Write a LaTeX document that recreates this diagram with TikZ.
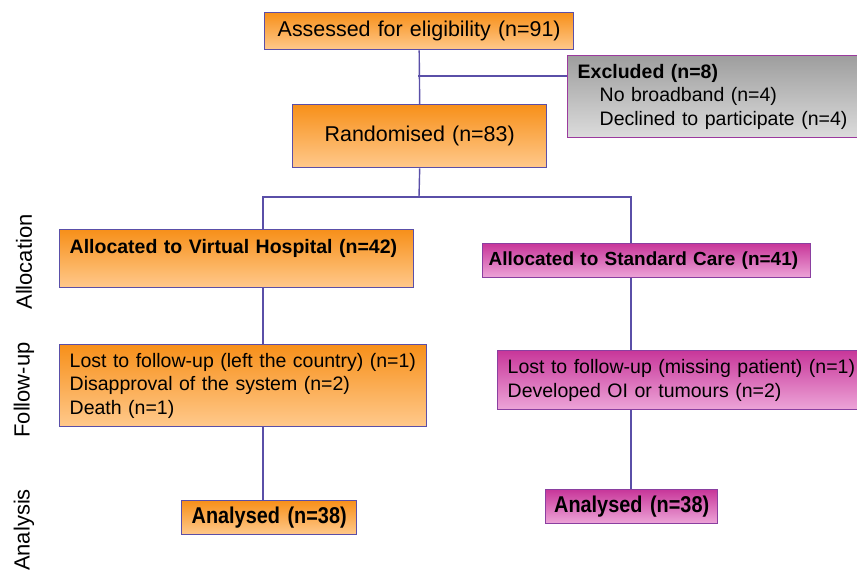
\documentclass[tikz,border=0pt]{standalone}
\usepackage{fontspec}
\setmainfont{Liberation Sans}
\newfontfamily\narrowsans[FakeStretch=0.87]{Liberation Sans}
\definecolor{linecol}{HTML}{5A4FA8}
\definecolor{orangetop}{HTML}{F7901A}
\definecolor{orangebot}{HTML}{FFC98C}
\definecolor{pinktop}{HTML}{C8379A}
\definecolor{pinkbot}{HTML}{EDA5D8}
\definecolor{greytop}{HTML}{9E9E9E}
\definecolor{greybot}{HTML}{DCDCDC}
\definecolor{pinkedge}{HTML}{8A3FA0}
\definecolor{greyedge}{HTML}{9B3A9E}
\tikzset{
  box/.style={anchor=north west, inner xsep=0.2cm, inner ysep=0.1cm, line width=0.8pt,
    font=\fontsize{11.1}{13.4}\selectfont, align=left},
  bigbox/.style={font=\fontsize{12.2}{15}\selectfont, align=center},
  orangebox/.style={box, draw=linecol, top color=orangetop, bottom color=orangebot},
  pinkbox/.style={box, draw=pinkedge, top color=pinktop, bottom color=pinkbot},
  greybox/.style={box, draw=greyedge, top color=greytop, bottom color=greybot},
  endbox/.style={align=center, inner xsep=0pt, font=\narrowsans\bfseries\fontsize{13}{15}\selectfont},
  flowline/.style={draw=linecol, line width=0.8pt},
  phase/.style={rotate=90, font=\fontsize{12.5}{15}\selectfont}
}
\begin{document}
\begin{tikzpicture}[x=0.02cm, y=-0.02cm]
\useasboundingbox (0,0) rectangle (857,572);
\node[orangebox, bigbox, text width=5.78cm, minimum height=0.74cm] (assess) at (264,12) {Assessed for eligibility (n=91)};
\node[greybox, text width=5.5cm, minimum height=1.64cm] (excl) at (567,55) {\textbf{Excluded (n=8)}\\ \hspace*{0.44cm}No broadband (n=4)\\ \hspace*{0.44cm}Declined to participate (n=4)};
\node[orangebox, bigbox, text width=4.68cm, minimum height=1.26cm] (rand) at (292,104) {Randomised (n=83)};
\node[orangebox, text width=6.68cm, minimum height=1.16cm] (allocVH) at (59,229) {\textbf{Allocated to Virtual Hospital (n=42)}\\ \mbox{}};
\node[pinkbox, inner xsep=0.12cm, text width=6.32cm, minimum height=0.68cm, font=\fontsize{10.8}{13.4}\selectfont] (allocSC) at (482,243) {\textbf{Allocated to Standard Care (n=41)}};
\node[orangebox, text width=6.94cm, minimum height=1.64cm] (fuVH) at (59,344) {Lost to follow-up (left the country) (n=1)\\ Disapproval of the system (n=2)\\ Death (n=1)};
\node[pinkbox, text width=7.00cm, minimum height=1.18cm] (fuSC) at (497,350) {Lost to follow-up (missing patient) (n=1)\\ Developed OI or tumours (n=2)};
\node[orangebox, endbox, text width=3.50cm, minimum height=0.68cm] (anVH) at (181,500) {Analysed (n=38)};
\node[pinkbox, endbox, text width=3.44cm, minimum height=0.68cm] (anSC) at (545,489) {Analysed (n=38)};
\node[phase] (phAlloc) at (24,262) {Allocation};
\node[phase] (phFollow) at (24,390) {Follow-up};
\node[phase] (phAnalysis) at (24,530) {Analysis};
\coordinate (exclJoin) at (418,76);
\coordinate (split) at (419,197);
\coordinate (colVH) at (263,0);
\coordinate (colSC) at (631,0);
\draw[flowline] (assess.south) -- (rand.north);
\draw[flowline] (exclJoin) -- (exclJoin -| excl.west);
\draw[flowline] (rand.south) -- (split);
\draw[flowline] (allocVH.north -| colVH) |- (split) -| (allocSC.north -| colSC);
\draw[flowline] (allocVH.south -| colVH) -- (fuVH.north -| colVH);
\draw[flowline] (fuVH.south -| colVH) -- (anVH.north -| colVH);
\draw[flowline] (allocSC.south -| colSC) -- (fuSC.north -| colSC);
\draw[flowline] (fuSC.south -| colSC) -- (anSC.north -| colSC);
\end{tikzpicture}
\end{document}
